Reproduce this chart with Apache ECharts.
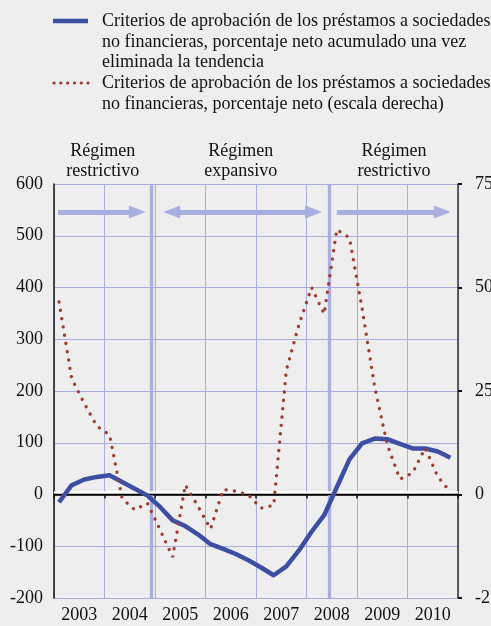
<!DOCTYPE html>
<html>
<head>
<meta charset="utf-8">
<script src="https://cdn.jsdelivr.net/npm/echarts@6/dist/echarts.min.js"></script>
<style>
  html, body { margin: 0; padding: 0; background: #eeeeee; }
  #chart { width: 491px; height: 626px; }
</style>
</head>
<body>
<div id="chart"></div>
<script>
// years on the bottom axis, one quarter per value
const years = ['2003', '2004', '2005', '2006', '2007', '2008', '2009', '2010'];

// cumulated net percentage, detrended (left axis)
const cumulative = [
  -15, 18, 29, 34,
  37, 24, 11, -2,
  -24, -50, -61, -77,
  -96, -105, -115, -127,
  -141, -156, -139, -108,
  -72, -40, 14, 68,
  99, 108, 107, 98,
  89, 89, 83, 71
];

// net percentage (right axis)
const netPct = [
  46.5, 28, 22, 16.5,
  14.4, -1, -3.7, -2.1,
  -8.5, -15.1, 2.3, -2.8,
  -8.3, 1.2, 0.8, -0.1,
  -3.3, -2.6, 30, 41,
  50, 43.6, 64, 62,
  45, 26, 12, 3.7,
  5.2, 11.2, 4.3, 0.6
];

const regimes = [
  { label: 'Régimen\nrestrictivo', from: 2003, to: 2004.935 },
  { label: 'Régimen\nexpansivo', from: 2004.935, to: 2008.465 },
  { label: 'Régimen\nrestrictivo', from: 2008.465, to: 2011 }
];
// arrows: start, end, symbol at start, symbol at end
const arrows = [
  [2003.08, 2004.65, 'none', 'triangle'],
  [2005.33, 2008.14, 'triangle', 'triangle'],
  [2008.60, 2010.69, 'none', 'triangle']
];
const arrowLevel = 546;

const blue = '#3c4fa5';
const red = '#a23a2d';
const lav = '#a9aee0';
const font = '"Liberation Serif", "Times New Roman", serif';

const quarterDates = [];
years.forEach(y => { for (let q = 1; q <= 4; q++) quarterDates.push(+y + (q - 0.6) / 4); });
const blueData = cumulative.map((v, i) => [quarterDates[i], v]);
const redData = netPct.map((v, i) => [quarterDates[i], v]);

const chart = echarts.init(document.getElementById('chart'));

const option = {
  backgroundColor: '#eeeeee',
  animation: false,
  grid: { left: 54, right: 33, top: 184, bottom: 28, containLabel: false, outerBoundsMode: 'none' },
  xAxis: [
    {
      type: 'category',
      data: years,
      boundaryGap: true,
      axisLine: { lineStyle: { color: '#444', width: 2 } },
      axisTick: { show: true, interval: 0, length: 4, lineStyle: { color: '#111', width: 1.5 } },
      axisLabel: { interval: 0, margin: 8, color: '#111', fontFamily: font, fontSize: 18 },
      splitLine: { show: true, interval: 0, lineStyle: { color: lav, width: 1 } }
    },
    { type: 'value', min: 2003, max: 2011, show: false }
  ],
  yAxis: [
    {
      type: 'value', min: -200, max: 600, interval: 100,
      axisLine: { show: true, lineStyle: { color: '#111', width: 1.5 } },
      axisTick: { show: false },
      axisLabel: { margin: 11, color: '#111', fontFamily: font, fontSize: 18 },
      splitLine: { show: true, lineStyle: { color: lav, width: 1 } }
    },
    {
      type: 'value', min: -25, max: 75, interval: 25, position: 'right',
      axisLine: { show: true, lineStyle: { color: '#333', width: 1.5 } },
      axisTick: { show: true, length: 4, lineStyle: { color: '#111', width: 2 } },
      axisLabel: { margin: 17, color: '#111', fontFamily: font, fontSize: 18 },
      splitLine: { show: false }
    }
  ],
  graphic: [
    { type: 'line', shape: { x1: 53, y1: 21, x2: 88, y2: 21 }, style: { stroke: blue, lineWidth: 4.5 } },
    { type: 'line', shape: { x1: 54, y1: 83, x2: 88, y2: 83 },
      style: { stroke: red, lineWidth: 3.2, lineDash: [0.1, 6.7], lineCap: 'round' } },
    { type: 'text', left: 102, top: 11,
      style: { text: 'Criterios de aprobación de los préstamos a sociedades\nno financieras, porcentaje neto acumulado una vez\neliminada la tendencia',
               font: '18px ' + font, lineHeight: 20.7, fill: '#111' } },
    { type: 'text', left: 102, top: 73,
      style: { text: 'Criterios de aprobación de los préstamos a sociedades\nno financieras, porcentaje neto (escala derecha)',
               font: '18px ' + font, lineHeight: 20.7, fill: '#111' } }
  ],
  series: [
    {
      // reference lines, regime areas and arrows
      type: 'line', xAxisIndex: 1, yAxisIndex: 0, data: [], silent: true,
      markArea: {
        silent: true,
        itemStyle: { color: 'rgba(0,0,0,0)' },
        label: { show: true, position: 'top', distance: 3, color: '#111', fontFamily: font, fontSize: 18, lineHeight: 20, align: 'center' },
        data: regimes.map(r => [{ xAxis: r.from, name: r.label }, { xAxis: r.to }])
      },
      markLine: {
        silent: true, z: 1, symbol: 'none', label: { show: false },
        data: [
          { xAxis: regimes[0].to, lineStyle: { color: lav, width: 3.3, type: 'solid' } },
          { xAxis: regimes[1].to, lineStyle: { color: lav, width: 3.3, type: 'solid' } },
          { yAxis: 4, lineStyle: { color: '#ffffff', width: 2.5, type: 'solid' } },
          { yAxis: 0, lineStyle: { color: '#000000', width: 1.3, type: 'solid' } }
        ].concat(arrows.map(a => [
          { coord: [a[0], arrowLevel], symbol: a[2], symbolSize: [13, 17] },
          { coord: [a[1], arrowLevel], symbol: a[3], symbolSize: [13, 17],
            lineStyle: { color: lav, width: 5, type: 'solid' } }
        ]))
      }
    },
    {
      name: 'acumulado', type: 'line', xAxisIndex: 1, yAxisIndex: 0, z: 4,
      data: blueData, showSymbol: false,
      lineStyle: { color: blue, width: 4.5, join: 'round' }
    },
    {
      name: 'neto', type: 'line', xAxisIndex: 1, yAxisIndex: 1, z: 5,
      data: redData, showSymbol: false,
      lineStyle: { color: red, width: 3.3, type: [0.1, 8.3], cap: 'round' }
    }
  ]
};

chart.setOption(option);
</script>
</body>
</html>
